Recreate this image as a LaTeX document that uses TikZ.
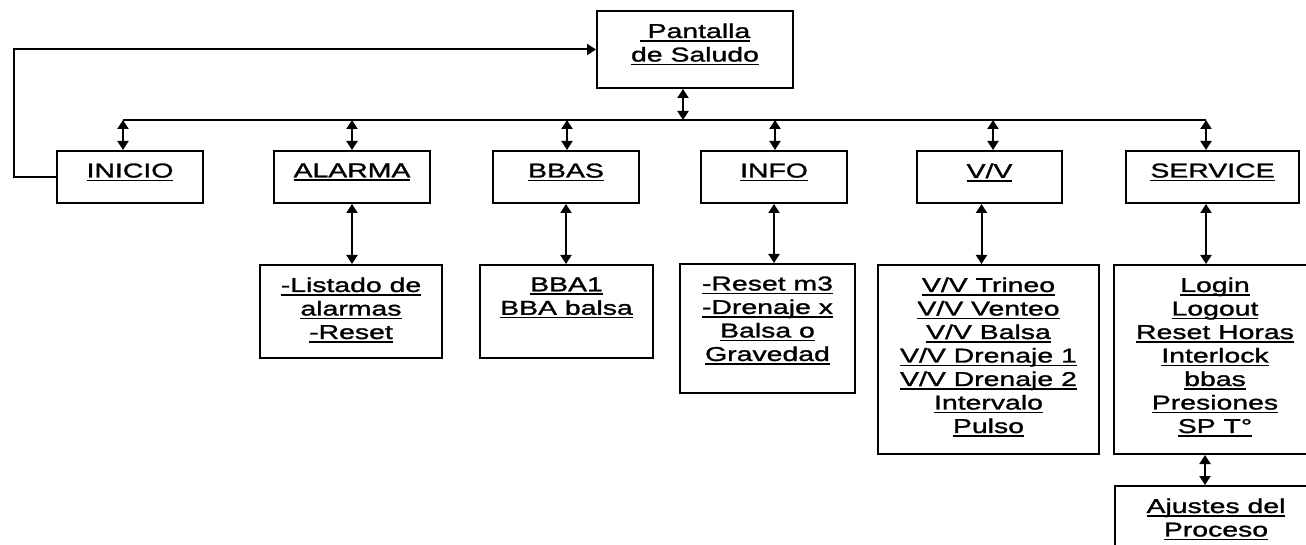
\documentclass[tikz,border=0pt]{standalone}
\usepackage{fontspec}
\setmainfont{Liberation Sans}[FakeStretch=1.42, FakeBold=1.4]
\usetikzlibrary{arrows.meta}
% underlined line of text
\newsavebox{\ulbox}
\newcommand{\ulx}[1]{\leavevmode\sbox{\ulbox}{#1}\rlap{\rule[-3.7pt]{\wd\ulbox}{1.5pt}}\usebox{\ulbox}}
% text of a menu box: fixed size, lines from the top
\newcommand{\menutext}[3]{\begin{minipage}[c][#2][t]{#1}\centering
  \fontsize{20}{23.5}\selectfont\vspace*{12.5pt}#3\end{minipage}}
\begin{document}
\begin{tikzpicture}[x=1pt, y=-1pt,
    box/.style={draw, line width=2pt, inner sep=0pt},
    link/.style={line width=2pt},
    dbl/.style={link, {Triangle[width=11pt,length=9pt]}-{Triangle[width=11pt,length=9pt]}},
    fwd/.style={link, -{Triangle[width=11pt,length=9pt]}}]
  \useasboundingbox (0,0) rectangle (1306,545);
  \clip (0,0) rectangle (1306,545);

  \node[box] (pant) at (695,49.5) {\menutext{196pt}{77pt}{\ulx{\ Pantalla}\\\ulx{de Saludo}}};
  \coordinate (top) at (683,120);
  \foreach \nm/\cx/\bw/\lab/\ax in {inicio/130/146/INICIO/123, alarma/352/156/ALARMA/352,
      bbas/566/146/BBAS/567, info/774/146/INFO/775, vv/989.5/145/{V/V}/993,
      service/1212.5/173/SERVICE/1206} {
    \node[box] (\nm) at (\cx,177) {\menutext{\bw pt}{52pt}{\ulx{\lab}}};
    \coordinate (bus\nm) at (\ax,120);
    \draw[dbl] (bus\nm) -- (bus\nm |- \nm.north);
  }
  \draw[link] (businicio) -- (busservice);
  \draw[dbl] (top) -- (top |- pant.south);
  \coordinate (fb) at (14,177);
  \draw[fwd] (inicio.west) -- (fb) |- (pant.west);

  % second level
  \node[box] (alist) at (351,311.5) {\menutext{182pt}{93pt}{\ulx{-Listado de}\\\ulx{alarmas}\\\ulx{-Reset}}};
  \node[box] (bbalist) at (566.5,311.5) {\menutext{173pt}{93pt}{\ulx{BBA1}\\\ulx{BBA balsa}}};
  \node[box] (infolist) at (767.5,328.5) {\menutext{175pt}{129pt}{\ulx{-Reset m3}\\\ulx{-Drenaje x}\\\ulx{Balsa o}\\\ulx{Gravedad}}};
  \node[box] (vvlist) at (988.5,359.5) {\menutext{221pt}{189pt}{\ulx{V/V Trineo}\\\ulx{V/V Venteo}\\\ulx{V/V Balsa}\\\ulx{V/V Drenaje 1}\\\ulx{V/V Drenaje 2}\\\ulx{Intervalo}\\\ulx{Pulso}}};
  \node[box] (svlist) at (1215,359.5) {\menutext{202pt}{189pt}{\ulx{Login}\\\ulx{Logout}\\\ulx{Reset Horas}\\\ulx{Interlock}\\\ulx{bbas}\\\ulx{Presiones}\\\ulx{SP T°}}};
  \node[box] (ajustes) at (1216,528) {\menutext{202pt}{84pt}{\ulx{Ajustes del}\\\ulx{Proceso}}};

  \draw[dbl] (alarma.south) -- (alarma.south |- alist.north);
  \draw[dbl] (bbas.south) -- (bbas.south |- bbalist.north);
  \draw[dbl] (info.south) -- (info.south |- infolist.north);
  \draw[dbl] ([xshift=-8pt]vv.south) -- ([xshift=-8pt]vv.south |- vvlist.north);
  \draw[dbl] ([xshift=-6.5pt]service.south) -- ([xshift=-6.5pt]service.south |- svlist.north);
  \draw[dbl] ([xshift=-10pt]svlist.south) -- ([xshift=-10pt]svlist.south |- ajustes.north);
\end{tikzpicture}
\end{document}
